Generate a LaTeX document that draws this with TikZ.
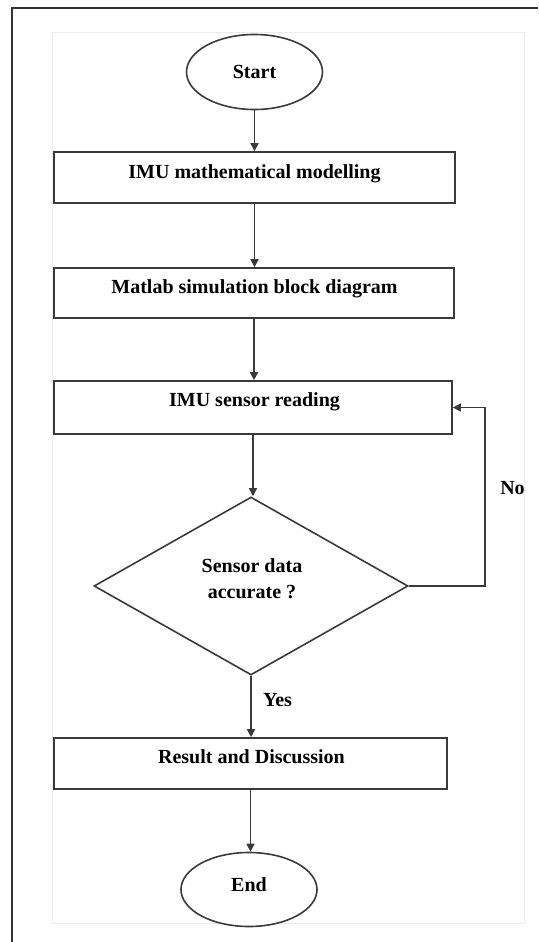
\documentclass[tikz,border=0pt]{standalone}
\usepackage{fontspec}
\setmainfont{Liberation Serif}
\usetikzlibrary{shapes.geometric,arrows.meta}
\definecolor{linecol}{HTML}{3A3A3A}
\definecolor{framecol}{HTML}{ECECEC}
\definecolor{bordercol}{HTML}{333333}
\tikzset{
  flowline/.style={draw=linecol, line width=1.6pt},
  arr/.style={flowline, -{Triangle[length=8pt,width=8pt]}},
  stepbox/.style={draw=linecol, line width=1.6pt, rectangle, inner sep=0pt, fill=white},
  terminal/.style={draw=linecol, line width=1.6pt, ellipse, inner sep=0pt, fill=white,
    minimum width=136, minimum height=75},
  decision/.style={draw=linecol, line width=1.6pt, diamond, inner sep=0pt, fill=white,
    minimum width=314, minimum height=178},
  lbl/.style={font=\fontsize{20}{24}\selectfont\bfseries, anchor=base, inner sep=0pt, text=black},
}
\begin{document}
\begin{tikzpicture}[x=1pt, y=-1pt]
  \useasboundingbox (0,0) rectangle (538,942);
  \fill[white] (0,0) rectangle (538,942);

  % page frame and outer border
  \draw[framecol, line width=1pt] (52,33) rectangle (524,923);
  \draw[bordercol, line width=2.5pt] (12,942) -- (12,8) -- (538,8);

  % shapes
  \node[terminal] (start) at (254.5,72) {};
  \node[stepbox, minimum width=401, minimum height=51] (b1) at (254.5,177.5) {};
  \node[stepbox, minimum width=400, minimum height=50] (b2) at (254,293) {};
  \node[stepbox, minimum width=398, minimum height=53] (b3) at (253,407.5) {};
  \node[decision] (dia) at (251,586) {};
  \node[stepbox, minimum width=393, minimum height=51] (b4) at (250.5,763.5) {};
  \node[terminal, minimum height=74] (end) at (249,889.5) {};

  % texts
  \node[lbl] (tstart) at (254.5,78.5) {Start};
  \node[lbl] (t1) at (254.5,178.5) {IMU mathematical modelling};
  \node[lbl] (t2) at (254.5,293.5) {Matlab simulation block diagram};
  \node[lbl] (t3) at (254.5,406.5) {IMU sensor reading};
  \node[lbl] (td1) at (252,572.5) {Sensor data};
  \node[lbl] (td2) at (252,598.5) {accurate ?};
  \node[lbl] (t4) at (251.5,763.5) {Result and Discussion};
  \node[lbl] (tend) at (249,891) {End};
  \node[lbl] (tyes) at (277.5,706.5) {Yes};
  \node[lbl] (tno) at (512.5,494.5) {No};

  % connectors
  \draw[arr] (start.south) -- (start.south |- b1.north);
  \draw[arr] (b1.south) -- (b1.south |- b2.north);
  \draw[arr] (b2.south) -- (b2.south |- b3.north);
  \draw[arr] (b3.south) -- (b3.south |- dia.north);
  \draw[arr] (dia.south) -- (dia.south |- b4.north);
  \draw[arr] (b4.south) -- (b4.south |- end.north);
  \coordinate (loop) at (485,586);
  \draw[arr] (dia.east) -- (loop) |- (b3.east);
\end{tikzpicture}
\end{document}
